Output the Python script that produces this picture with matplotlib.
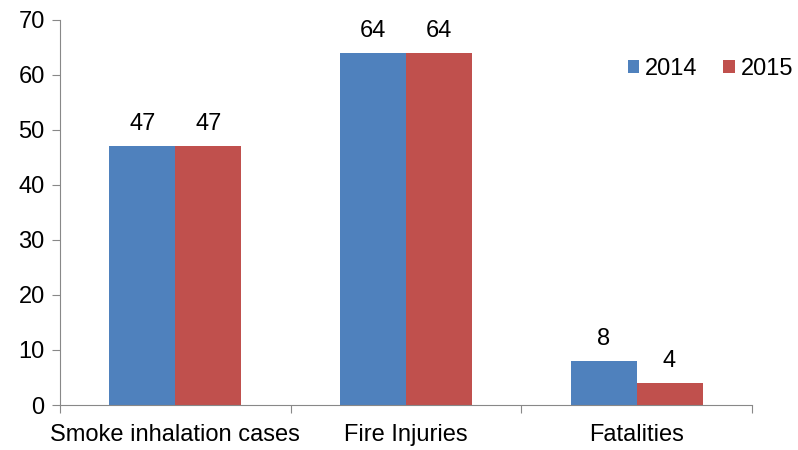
import matplotlib.pyplot as plt
import numpy as np

plt.rcParams['font.family'] = ['Liberation Sans', 'DejaVu Sans']

categories = ["Smoke inhalation cases", "Fire Injuries", "Fatalities"]
vals_2014 = [47, 64, 8]
vals_2015 = [47, 64, 4]
series = ["2014", "2015"]

fs = 17
fig = plt.figure(figsize=(7.98, 4.5), dpi=100)
ax = fig.add_axes([0.0752, 0.1, 0.8670, 0.8556])

x = np.arange(len(categories))
w = 0.286
b1 = ax.bar(x - w/2, vals_2014, w, color="#4F81BD", label=series[0])
b2 = ax.bar(x + w/2, vals_2015, w, color="#C0504D", label=series[1])

for bars in (b1, b2):
    for r in bars:
        ax.annotate(str(int(r.get_height())), (r.get_x() + r.get_width()/2, r.get_height()),
                    xytext=(0, 8), textcoords="offset points", ha="center", va="bottom",
                    fontsize=fs)

ax.set_xlim(-0.5, 2.5)
ax.set_ylim(0, 70)
ax.set_yticks(range(0, 71, 10))
ax.set_xticks([-0.5, 0.5, 1.5, 2.5])
ax.set_xticklabels([])
ax.set_xticks(x, minor=True)
ax.set_xticklabels(categories, minor=True)
ax.tick_params(axis="x", which="minor", length=0, labelsize=fs, pad=14)
ax.tick_params(axis="x", which="major", length=6, color="#888888")
ax.tick_params(axis="y", length=6, color="#888888", labelsize=fs, pad=5)

for s in ("top", "right"):
    ax.spines[s].set_visible(False)
for s in ("left", "bottom"):
    ax.spines[s].set_color("#888888")

fig.legend(loc="center left", bbox_to_anchor=(628/798, 1 - 69/450), ncol=2, frameon=False,
           fontsize=fs, handlelength=0.47, handleheight=0.47, columnspacing=1.1,
           handletextpad=0.25, borderpad=0, borderaxespad=0)

fig.savefig("out.png", dpi=100)
